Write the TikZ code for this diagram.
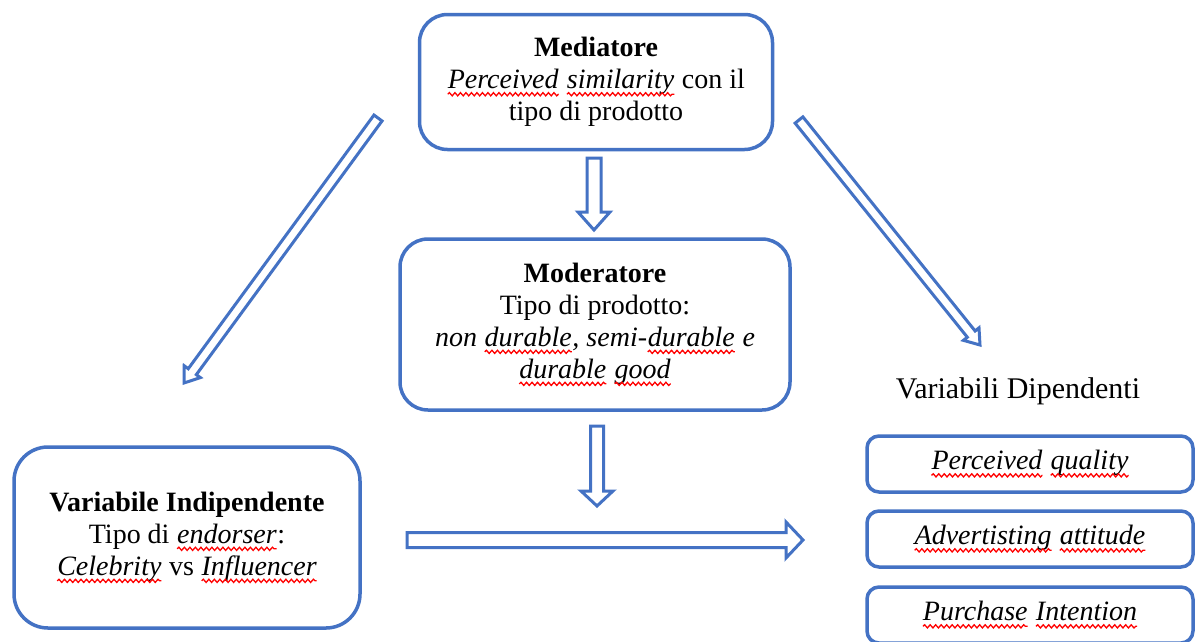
\documentclass[tikz,border=0pt]{standalone}
\usepackage{fontspec}
\setmainfont{Liberation Serif}
\usetikzlibrary{calc,decorations.pathmorphing}
\definecolor{wblue}{RGB}{68,114,196}
\newcommand{\sq}[1]{\tikz[baseline=(w.base)]{\node[draw=none,fill=none,inner sep=0pt,outer sep=0pt,rounded corners=0pt,minimum width=0pt,minimum height=0pt,shape=rectangle,anchor=base,font=](w){#1};\draw[draw=red,line width=1.3pt,rounded corners=0pt,decorate,decoration={snake,amplitude=1.6pt,segment length=5.5pt}]([yshift=-5.5pt]w.base west)--([yshift=-5.5pt]w.base east);}}
\newcommand{\blockarrow}[5]{%
\draw[arrowline] let \p1=($(#2)-(#1)$), \n1={atan2(\y1,\x1)}, \n2={veclen(\x1,\y1)} in
 [shift={(#1)}, rotate=\n1] (0pt,-#3) -- (\n2-#5,-#3) -- (\n2-#5,-#4) -- (\n2,0pt) -- (\n2-#5,#4) -- (\n2-#5,#3) -- (0pt,#3) -- cycle;}
\begin{document}
\begin{tikzpicture}[x=1pt,y=-1pt,
  box/.style={draw=wblue,line width=3.5pt,rounded corners=28pt,fill=white,align=center,inner sep=0pt,font=\fontsize{28}{32}\selectfont},
  dvbox/.style={box,rounded corners=12pt,minimum width=326pt,minimum height=56pt},
  arrowline/.style={draw=wblue,line width=3pt,fill=white,line join=miter}]
\useasboundingbox (0,0) rectangle (1195,641);
\clip (0,0) rectangle (1195,641);
\fill[white] (0,0) rectangle (1195,641);

\node[box,minimum width=353pt,minimum height=135pt] (med) at (596,82)
  {\textbf{Mediatore}\\\textit{\sq{Perceived} \sq{similarity}} con il\\tipo di prodotto};
\node[box,minimum width=390pt,minimum height=171pt] (mod) at (595,324.5)
  {\textbf{Moderatore}\\Tipo di prodotto:\\\textit{non \sq{durable}, semi-\sq{durable} e}\\\textit{\sq{durable} \sq{good}}};
\node[box,rounded corners=34pt,minimum width=346pt,minimum height=181pt] (vi) at (187,537.5)
  {\textbf{Variabile Indipendente}\\Tipo di \textit{\sq{endorser}}:\\\textit{\sq{Celebrity}} vs \textit{\sq{Influencer}}};

\node[anchor=base,font=\fontsize{30}{34}\selectfont] (vdlab) at (1018,398) {Variabili Dipendenti};
\node[dvbox] (dv1) at (1030,464) {\textit{\sq{Perceived} \sq{quality}}};
\node[dvbox] (dv2) at (1030,539) {\textit{\sq{Advertisting} \sq{attitude}}};
\node[dvbox] (dv3) at (1030,615) {\textit{\sq{Purchase} \sq{Intention}}};

\coordinate (a1s) at (594,158); \coordinate (a1e) at (594,230);
\coordinate (a2s) at (597,426); \coordinate (a2e) at (597,506);
\coordinate (a3s) at (407,540); \coordinate (a3e) at (803,540);
\coordinate (a4s) at (378,118); \coordinate (a4e) at (184,383);
\coordinate (a5s) at (799,120); \coordinate (a5e) at (980,345);

\blockarrow{a1s}{a1e}{7pt}{16pt}{18pt}
\blockarrow{a2s}{a2e}{6.5pt}{16pt}{15pt}
\blockarrow{a3s}{a3e}{7.5pt}{18pt}{17pt}
\blockarrow{a4s}{a4e}{5pt}{10pt}{14pt}
\blockarrow{a5s}{a5e}{5pt}{10pt}{14pt}
\end{tikzpicture}
\end{document}
